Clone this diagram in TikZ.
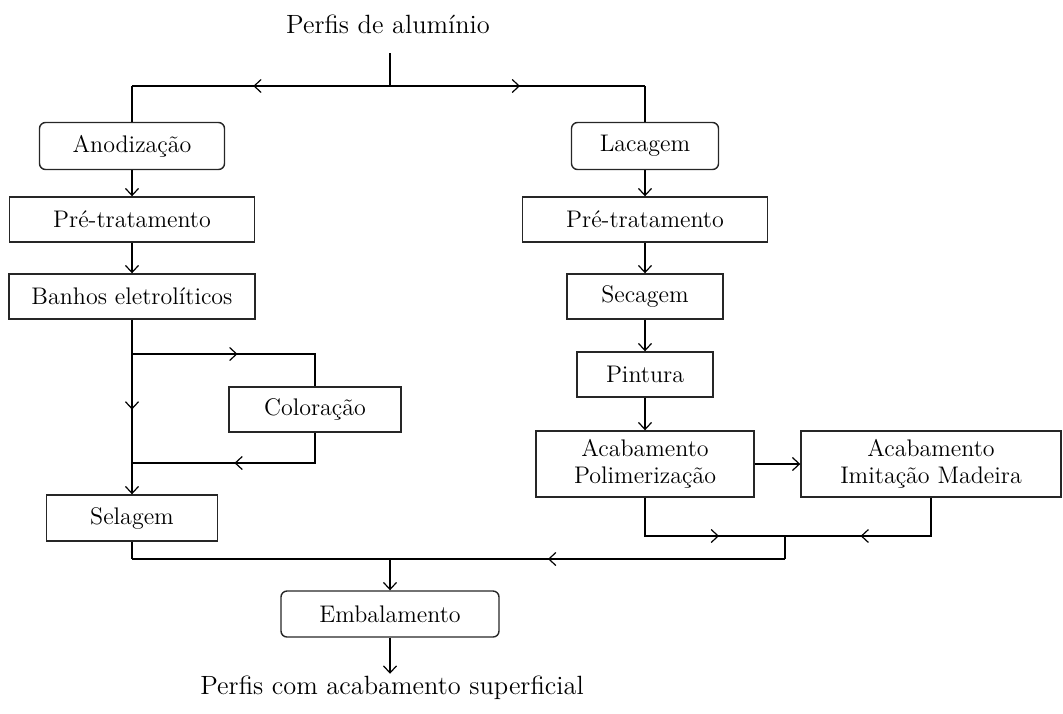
\documentclass[tikz,border=0pt]{standalone}
\usepackage{tikz}
\usetikzlibrary{arrows.meta, decorations.markings}

\tikzset{meio/.style={postaction={decorate},
    decoration={markings, mark=at position #1 with {\arrow{>}}}}}

\begin{document}
\begin{tikzpicture}[x=0.5pt, y=-0.5pt, >={Straight Barb[length=3.5pt,width=6.5pt,line width=0.6pt]},
    font=\fontsize{12}{13.5}\selectfont]
    \tikzstyle{caixa} = [draw=black!85, line width=0.7pt, rectangle, minimum height=22.5pt, inner sep=2pt, align=center]
    \tikzstyle{etapa} = [caixa, rounded corners=3pt, minimum height=23.5pt]
    \tikzstyle{linha} = [line width=1.15pt]
    \tikzstyle{fina} = [line width=0.55pt, ->]
    \tikzstyle{texto} = [font=\fontsize{13.2}{15}\selectfont]

    \useasboundingbox (0,0) rectangle (1063,713);

    % Entrada e divisao
    \node[texto] (entrada) at (388,24) {Perfis de alumínio};
    \coordinate (topo) at (390,53);
    \coordinate (div) at (390,86);

    % Ramo anodizacao
    \node[etapa, minimum width=92.5pt] (anod) at (132,146) {Anodização};
    \node[caixa, minimum width=122.5pt] (preE) at (132,219.5) {Pré-tratamento};
    \node[caixa, minimum width=123pt] (banhos) at (132,296.5) {Banhos eletrolíticos};
    \node[caixa, minimum width=86pt] (color) at (315,409.5) {Coloração};
    \node[caixa, minimum width=85.5pt, minimum height=23pt] (sel) at (132,518) {Selagem};
    \coordinate (desvio) at (132,354);
    \coordinate (retorno) at (132,463);

    % Ramo lacagem
    \node[etapa, minimum width=73.5pt] (lac) at (645,146) {Lacagem};
    \node[caixa, minimum width=122.5pt] (preD) at (645,219.5) {Pré-tratamento};
    \node[caixa, minimum width=78pt] (sec) at (645,296.5) {Secagem};
    \node[caixa, minimum width=68pt] (pint) at (645,374.5) {Pintura};
    \node[caixa, minimum width=109pt, minimum height=33pt] (pol) at (645,464) {Acabamento\\Polimerização};
    \node[caixa, minimum width=130pt, minimum height=33pt] (imit) at (931,464) {Acabamento\\Imitação Madeira};
    \coordinate (juntaD) at (785,536);
    \coordinate (juntaB) at (785,559);

    % Saida
    \node[etapa, minimum width=109pt, minimum height=23pt] (emb) at (390,614) {Embalamento};
    \node[texto, inner sep=1pt] (saida) at (392,688) {Perfis com acabamento superficial};

    % Ligacoes do topo
    \draw[linha] (topo) -- (div);
    \draw[linha, meio=0.53] (div) -- (anod.north |- div);
    \draw[linha] (anod.north |- div) -- (anod.north);
    \draw[linha, meio=0.51] (div) -- (lac.north |- div);
    \draw[linha] (lac.north |- div) -- (lac.north);

    % Ligacoes da anodizacao
    \draw[fina] (anod) -- (preE);
    \draw[fina] (preE) -- (banhos);
    \draw[linha] (banhos) -- (desvio);
    \draw[linha, meio=0.51] (desvio) -- (retorno);
    \draw[linha, meio=0.49] (desvio) -| (color.north);
    \draw[linha, meio=0.52] (color.south) |- (retorno);
    \draw[fina] (retorno) -- (sel);
    \draw[linha] (sel.south) -- (sel.south |- juntaB);

    % Ligacoes da lacagem
    \draw[fina] (lac) -- (preD);
    \draw[fina] (preD) -- (sec);
    \draw[fina] (sec) -- (pint);
    \draw[fina] (pint) -- (pol);
    \draw[fina] (pol) -- (imit);
    \draw[linha, meio=0.63] (pol.south) |- (juntaD);
    \draw[linha, meio=0.59] (imit.south) |- (juntaD);
    \draw[linha] (juntaD) -- (juntaB);
    \draw[linha, meio=0.363] (juntaB) -- (sel.south |- juntaB);

    % Embalamento
    \draw[linha, ->] (emb.north |- juntaB) -- (emb);
    \draw[fina] (emb.south) -- (emb.south |- saida.north);
\end{tikzpicture}
\end{document}
